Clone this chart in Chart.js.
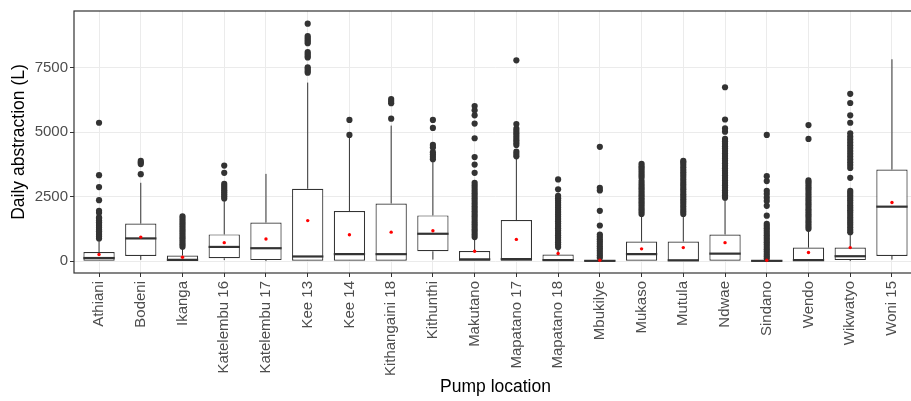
<!DOCTYPE html>
<html><head><meta charset="utf-8">
<script src="https://cdn.jsdelivr.net/npm/chart.js@4"></script>
<style>html,body{margin:0;padding:0;background:#fff;overflow:hidden;width:911px;height:401px}</style>
</head><body>
<canvas id="c" width="921" height="401"></canvas>
<script>
const categories = ['Athiani','Bodeni','Ikanga','Katelembu 16','Katelembu 17','Kee 13','Kee 14','Kithangaini 18','Kithunthi','Makutano','Mapatano 17','Mapatano 18','Mbukilye','Mukaso','Mutula','Ndwae','Sindano','Wendo','Wikwatyo','Woni 15'];
const whiskerLow  = [0, 50, 0, 40, 0, 0, 0, 0, 60, 0, 0, 0, 0, 0, 0, 0, 0, 0, 0, 60];
const q1          = [0, 200, 0, 110, 40, 0, 0, 0, 380, 0, 0, 0, 0, 0, 0, 0, 0, 0, 40, 200];
const median      = [120, 880, 50, 550, 500, 180, 270, 270, 1060, 70, 80, 40, 10, 270, 30, 290, 10, 40, 190, 2110];
const q3          = [355, 1455, 218, 1035, 1495, 2805, 1940, 2235, 1772, 395, 1590, 256, 40, 760, 760, 1033, 40, 524, 524, 3548];
const whiskerHigh = [880, 3035, 545, 2410, 3380, 6917, 4800, 5250, 3893, 900, 3993, 540, 100, 1760, 1825, 2400, 100, 1190, 1080, 7820];
const means       = [256, 930, 153, 715, 855, 1570, 1022, 1122, 1175, 383, 842, 294, 35, 475, 524, 715, 35, 333, 524, 2270];
const outliers = [
  [880,950,1020,1090,1160,1230,1300,1370,1440,1510,1580,1650,1700,1870,1950,2360,2870,3330,5360],
  [3370,3760,3820,3880],
  [560,650,740,830,920,1010,1100,1190,1280,1370,1460,1550,1640,1730],
  [2430,2510,2590,2670,2750,2830,2910,2990,3420,3700],
  [],
  [7300,7370,7440,7510,7890,7960,8030,8100,8440,8510,8580,8650,8720,9200],
  [4890,5470],
  [5520,6120,6200,6280],
  [3950,4040,4130,4220,4400,4500,5160,5470],
  [930,1030,1130,1230,1330,1430,1530,1630,1730,1830,1930,2030,2130,2230,2330,2430,2530,2630,2730,2830,2930,3030,3420,3740,4030,4760,5330,5650,5845,6010],
  [4060,4150,4240,4500,4590,4680,4770,4860,4950,5040,5130,5310,7780],
  [550,640,730,820,910,1000,1090,1180,1270,1360,1450,1540,1630,1720,1810,1900,1990,2080,2170,2260,2350,2440,2530,2780,3165],
  [130,220,310,400,490,580,670,760,850,940,1030,1380,1950,2740,2840,4430],
  [1830,1920,2010,2100,2190,2280,2370,2460,2550,2640,2730,2820,2910,3000,3100,3230,3320,3410,3500,3590,3680,3770],
  [1830,1925,2020,2115,2210,2305,2400,2495,2590,2685,2780,2875,2970,3065,3160,3255,3350,3445,3540,3635,3730,3825,3880],
  [2460,2555,2650,2745,2840,2935,3030,3125,3220,3315,3410,3505,3600,3695,3790,3885,3980,4075,4170,4265,4360,4455,4550,4645,4735,5015,5142,5486,6737],
  [100,190,280,370,460,550,640,730,820,910,1000,1090,1180,1270,1360,1443,1760,2144,2330,2460,2600,2718,3100,3292,4888],
  [1250,1345,1440,1535,1630,1725,1820,1915,2010,2105,2200,2295,2390,2485,2580,2675,2770,2865,2960,3055,3125,4735,5270],
  [1120,1215,1310,1405,1500,1595,1690,1785,1880,1975,2070,2165,2260,2355,2450,2545,2640,2718,3227,3610,3720,3830,3940,4050,4160,4270,4380,4490,4600,4710,4820,4950,5360,5650,6125,6480],
  []
];
const yTicks = [0, 2500, 5000, 7500];
const yTitle = 'Daily abstraction (L)';
const xTitle = 'Pump location';

const boxData = categories.map((c, i) => ({x: i, y: [q1[i], q3[i]]}));
const outlierData = [];
outliers.forEach((arr, i) => arr.forEach(v => outlierData.push({x: i, y: v})));
const meanData = means.map((v, i) => ({x: i, y: v}));

const FONT = "'Liberation Sans', Arial, sans-serif";
const INK = '#333333';

const boxParts = {
  id: 'boxParts',
  afterDatasetDraw(chart, args) {
    if (args.index !== 0) return;
    const {ctx, scales: {x, y}} = chart;
    const meta = chart.getDatasetMeta(0);
    ctx.save();
    ctx.strokeStyle = INK;
    meta.data.forEach((bar, i) => {
      const px = x.getPixelForValue(i);
      const half = bar.width / 2;
      ctx.lineWidth = 1;
      ctx.beginPath();
      ctx.moveTo(px, y.getPixelForValue(whiskerLow[i]));
      ctx.lineTo(px, y.getPixelForValue(q1[i]));
      ctx.moveTo(px, y.getPixelForValue(q3[i]));
      ctx.lineTo(px, y.getPixelForValue(whiskerHigh[i]));
      ctx.stroke();
      ctx.lineWidth = 2.2;
      ctx.beginPath();
      const my = y.getPixelForValue(median[i]);
      ctx.moveTo(bar.x - half, my);
      ctx.lineTo(bar.x + half, my);
      ctx.stroke();
    });
    ctx.restore();
  },
  afterDraw(chart) {
    const {ctx, chartArea: a} = chart;
    ctx.save();
    ctx.strokeStyle = INK;
    ctx.lineWidth = 1.2;
    ctx.strokeRect(a.left, a.top, a.right - a.left, a.bottom - a.top);
    ctx.restore();
  }
};

new Chart(document.getElementById('c'), {
  type: 'bar',
  data: {
    datasets: [
      {type: 'bar', data: boxData, backgroundColor: '#ffffff', borderColor: INK, borderWidth: 1.2,
       borderSkipped: false, categoryPercentage: 1, barPercentage: 0.75, grouped: false, order: 3},
      {type: 'scatter', data: outlierData, pointRadius: 3.1, pointBackgroundColor: INK, pointBorderWidth: 0, order: 2},
      {type: 'scatter', data: meanData, pointRadius: 1.7, pointBackgroundColor: '#ff0000', pointBorderWidth: 0, order: 1}
    ]
  },
  options: {
    responsive: false,
    animation: false,
    devicePixelRatio: 1,
    layout: {padding: {top: 8, right: 0, left: 0, bottom: 0}},
    plugins: {legend: {display: false}, tooltip: {enabled: false}},
    scales: {
      x: {
        type: 'linear', min: -0.6, max: 19.6, offset: false,
        afterBuildTicks: s => { s.ticks = categories.map((c, i) => ({value: i})); },
        afterFit: s => { s.height = 128; },
        ticks: {callback: v => categories[v], autoSkip: false, maxRotation: 90, minRotation: 90,
                font: {family: FONT, size: 15}, color: '#4d4d4d', padding: 4},
        grid: {offset: false, color: '#ebebeb', lineWidth: 1, tickColor: INK, tickLength: 4},
        border: {display: false},
        title: {display: true, text: xTitle, font: {family: FONT, size: 17.5}, color: '#000000',
                padding: {top: 0, bottom: 3}}
      },
      y: {
        type: 'linear', min: -460, max: 9690,
        afterBuildTicks: s => { s.ticks = yTicks.map(v => ({value: v})); },
        afterFit: s => { s.width = 74; },
        ticks: {callback: v => String(v), font: {family: FONT, size: 15}, color: '#4d4d4d', padding: 2},
        grid: {offset: false, color: '#ebebeb', lineWidth: 1, tickColor: INK, tickLength: 4},
        border: {display: false},
        title: {display: true, text: yTitle, font: {family: FONT, size: 17.5}, color: '#000000',
                padding: {top: 9, bottom: 0}}
      }
    }
  },
  plugins: [boxParts]
});
</script>
</body></html>
